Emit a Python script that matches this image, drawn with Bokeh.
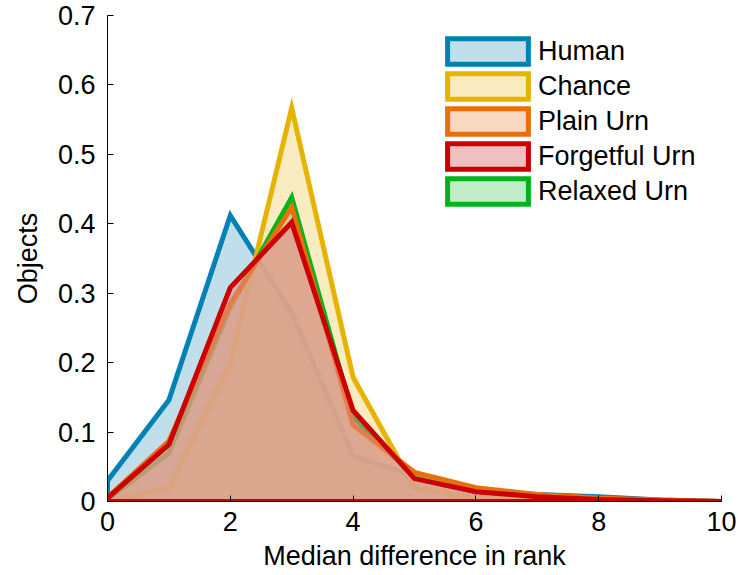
from bokeh.plotting import figure
from bokeh.models import Range1d, FixedTicker, Legend, LegendItem
from bokeh.embed import file_html
from bokeh.resources import INLINE

# Distribution of median rank differences per model
ranks = [0, 1, 2, 3, 4, 5, 6, 7, 8, 9, 10]
human = [0.030, 0.146, 0.412, 0.272, 0.066, 0.036, 0.015, 0.010, 0.007, 0.002, 0.0]
chance = [0.0, 0.019, 0.200, 0.567, 0.179, 0.020, 0.005, 0.002, 0.001, 0.0, 0.0]
plain_urn = [0.006, 0.087, 0.285, 0.424, 0.110, 0.042, 0.020, 0.010, 0.005, 0.002, 0.0]
forgetful_urn = [0.005, 0.082, 0.308, 0.402, 0.131, 0.033, 0.014, 0.007, 0.003, 0.001, 0.0]
relaxed_urn = [0.003, 0.070, 0.280, 0.438, 0.122, 0.036, 0.016, 0.008, 0.004, 0.001, 0.0]

x_ticks = [0, 2, 4, 6, 8, 10]
y_ticks = [0, 0.1, 0.2, 0.3, 0.4, 0.5, 0.6, 0.7]
y_tick_labels = ["0", "0.1", "0.2", "0.3", "0.4", "0.5", "0.6", "0.7"]

FONT = "Liberation Sans"
FS = "27px"
FILL_ALPHA = 0.53

p = figure(width=738, height=575, output_backend="svg", toolbar_location=None,
           x_range=Range1d(0, 10), y_range=Range1d(0, 0.7),
           min_border_left=107, min_border_right=17, min_border_top=15,
           min_border_bottom=74)
p.outline_line_color = None
p.grid.visible = False
p.background_fill_color = "white"
p.border_fill_color = "white"

for ax in (p.xaxis[0], p.yaxis[0]):
    ax.axis_line_color = "black"
    ax.axis_line_width = 1
    ax.major_tick_in = 6
    ax.major_tick_out = 0
    ax.minor_tick_line_color = None
    ax.major_tick_line_color = "black"
    ax.major_label_text_font = FONT
    ax.major_label_text_font_size = FS
    ax.major_label_text_color = "black"
    ax.axis_label_text_font = FONT
    ax.axis_label_text_font_size = FS
    ax.axis_label_text_font_style = "normal"
    ax.axis_label_text_color = "black"

p.xaxis.ticker = FixedTicker(ticks=x_ticks)
p.yaxis.ticker = FixedTicker(ticks=y_ticks)
p.yaxis.major_label_overrides = {t: s for t, s in zip(y_ticks, y_tick_labels)}
p.xaxis.axis_label = "Median difference in rank"
p.yaxis.axis_label = "Objects"
p.xaxis.major_label_standoff = 10
p.xaxis.axis_label_standoff = 7
p.yaxis.major_label_standoff = 12
p.yaxis.axis_label_standoff = 12


def closed(ys):
    # close each distribution down to the baseline
    return ranks + [ranks[-1], ranks[0]], ys + [0.0, 0.0]


# edge colour and light face shade (as seen on white) per series
series = {
    "Human": (human, "#0082b4", (0xc0, 0xdf, 0xea)),
    "Chance": (chance, "#e6b400", (0xf8, 0xec, 0xc0)),
    "Plain Urn": (plain_urn, "#e8700a", (0xf8, 0xd8, 0xc0)),
    "Forgetful Urn": (forgetful_urn, "#cc0000", (0xf0, 0xc0, 0xc0)),
    "Relaxed Urn": (relaxed_urn, "#00b41e", (0xc0, 0xec, 0xc8)),
}


def face_colour(shade):
    # colour that, at FILL_ALPHA over white, gives the requested shade
    rgb = [max(0, min(255, round(255 - (255 - c) / FILL_ALPHA))) for c in shade]
    return "#%02x%02x%02x" % tuple(rgb)


renderers = {}
for name in ["Human", "Chance", "Relaxed Urn", "Plain Urn", "Forgetful Urn"]:
    ys, edge, shade = series[name]
    xs, yy = closed(ys)
    renderers[name] = p.patch(xs, yy, fill_color=face_colour(shade),
                              fill_alpha=FILL_ALPHA, line_color=edge,
                              line_width=5, line_join="miter")

legend = Legend(items=[LegendItem(label=n, renderers=[renderers[n]])
                       for n in ["Human", "Chance", "Plain Urn", "Forgetful Urn", "Relaxed Urn"]],
                location=(330, 294))
legend.glyph_width = 101
legend.glyph_height = 32
legend.label_height = 32
legend.label_standoff = 0
legend.spacing = 3
legend.padding = 0
legend.margin = 0
legend.label_text_font = FONT
legend.label_text_font_size = FS
legend.label_text_color = "black"
legend.background_fill_alpha = 0
legend.border_line_alpha = 0
p.add_layout(legend)

open("out.html", "w").write(file_html(p, INLINE))
